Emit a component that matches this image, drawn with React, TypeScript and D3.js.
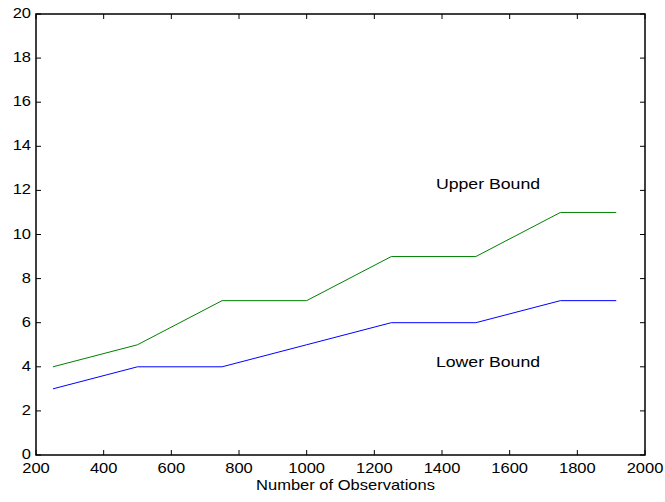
import React from 'react';
import * as d3 from 'd3';

const observations = [250, 500, 750, 1000, 1250, 1500, 1750, 1915];
const upperBound = [4, 5, 7, 7, 9, 9, 11, 11];
const lowerBound = [3, 4, 4, 5, 6, 6, 7, 7];
const xTicks = [200, 400, 600, 800, 1000, 1200, 1400, 1600, 1800, 2000];
const yTicks = [0, 2, 4, 6, 8, 10, 12, 14, 16, 18, 20];

const width = 665;
const height = 502;
const margin = { top: 14, right: 20, bottom: 47, left: 36 };
const font = 'Arial, "Liberation Sans", Helvetica, sans-serif';
const stretch = 1.18;

// text in the reference is a bit wider than it is tall
const Label = ({ x, y, anchor = 'start', size = 14, children }: any) => (
  <g transform={`translate(${x},${y}) scale(${stretch},1)`}>
    <text fontFamily={font} fontSize={size} textAnchor={anchor} fill="#000">
      {children}
    </text>
  </g>
);

export default function App() {
  const x = d3.scaleLinear().domain([200, 2000]).range([margin.left, width - margin.right]);
  const y = d3.scaleLinear().domain([0, 20]).range([height - margin.bottom, margin.top]);

  const line = d3
    .line<number>()
    .x((_, i) => x(observations[i]))
    .y((d) => y(d));

  const left = x(200);
  const right = x(2000);
  const top = y(20);
  const bottom = y(0);
  const tick = 5;

  return (
    <svg width={width} height={height} style={{ position: 'absolute', left: 0, top: 0 }}>
      <rect x={0} y={0} width={width} height={height} fill="#fff" />
      <path d={line(upperBound) || ''} fill="none" stroke="#008000" strokeWidth={1} />
      <path d={line(lowerBound) || ''} fill="none" stroke="#0000ff" strokeWidth={1} />

      {xTicks.map((t) => (
        <g key={`x${t}`}>
          <line x1={x(t)} x2={x(t)} y1={bottom} y2={bottom - tick} stroke="#000" />
          <line x1={x(t)} x2={x(t)} y1={top} y2={top + tick} stroke="#000" />
          <Label x={x(t)} y={bottom + 18} anchor="middle">{t}</Label>
        </g>
      ))}
      {yTicks.map((t) => (
        <g key={`y${t}`}>
          <line x1={left} x2={left + tick} y1={y(t)} y2={y(t)} stroke="#000" />
          <line x1={right} x2={right - tick} y1={y(t)} y2={y(t)} stroke="#000" />
          <Label x={left - 5} y={y(t) + 4} anchor="end">{t}</Label>
        </g>
      ))}
      <rect x={left} y={top} width={right - left} height={bottom - top} fill="none" stroke="#000" strokeWidth={1.5} />

      <Label x={x(1382)} y={y(12) - 1} size={15}>Upper Bound</Label>
      <Label x={x(1382)} y={y(4)} size={15}>Lower Bound</Label>
      <Label x={(left + right) / 2 + 5} y={bottom + 35} anchor="middle">Number of Observations</Label>
    </svg>
  );
}
